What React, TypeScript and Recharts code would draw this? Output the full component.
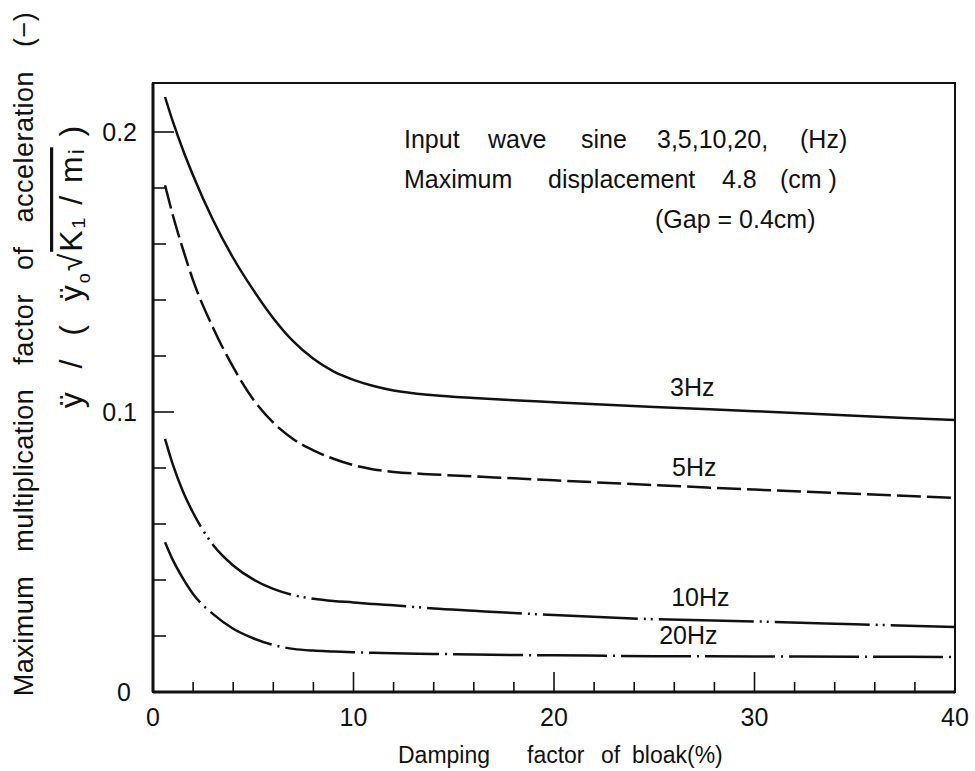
import React from "react";
import { LineChart, Line, XAxis, YAxis, ReferenceArea, ReferenceDot } from "recharts";

// damping factor of the block (%) at which each curve was read
const damping = [0.6, 1, 1.5, 2, 3, 4, 5, 6, 7, 8, 9, 10, 11, 12, 14, 16, 18, 20, 25, 30, 35, 40];

// max acceleration multiplication factor per input frequency
const hz3 = [0.2125, 0.2035, 0.1935, 0.1845, 0.1685, 0.155, 0.1436, 0.1335, 0.1252, 0.119, 0.1145, 0.1115, 0.1093, 0.1077, 0.106, 0.105, 0.1042, 0.1035, 0.1018, 0.1003, 0.0987, 0.0971];
const hz5 = [0.181, 0.17, 0.158, 0.147, 0.13, 0.116, 0.1045, 0.0962, 0.0903, 0.0863, 0.0833, 0.081, 0.0795, 0.0786, 0.0777, 0.077, 0.0763, 0.0756, 0.0739, 0.0723, 0.0708, 0.0693];
const hz10 = [0.0904, 0.081, 0.0715, 0.064, 0.0525, 0.0452, 0.0402, 0.0368, 0.0346, 0.0333, 0.0325, 0.032, 0.0314, 0.031, 0.0298, 0.029, 0.0282, 0.0275, 0.026, 0.0252, 0.0242, 0.0232];
const hz20 = [0.0535, 0.047, 0.0405, 0.035, 0.0278, 0.0226, 0.0192, 0.0168, 0.0154, 0.0148, 0.0145, 0.0142, 0.014, 0.0138, 0.0136, 0.0134, 0.0132, 0.0131, 0.0128, 0.0127, 0.0126, 0.0125];

const xTicks = [0, 2, 4, 6, 8, 10, 12, 14, 16, 18, 20, 22, 24, 26, 28, 30, 32, 34, 36, 38, 40];
const xTickLabels = [0, 10, 20, 30, 40];
const yTicks = [0, 0.02, 0.04, 0.06, 0.08, 0.1, 0.12, 0.14, 0.16, 0.18, 0.2];
const yTickLabels = ["0", "0.1", "0.2"];

const curveNames = ["3Hz", "5Hz", "10Hz", "20Hz"];
const curveLabelX = [26.9, 27.0, 27.3, 26.7];
const curveLabelY = [0.109, 0.0804, 0.0339, 0.0204];

// test-condition note and x title, word by word: [text, x]
const noteLine1: [string, number][] = [["Input", 404], ["wave", 488], ["sine", 581], ["3,5,10,20,", 657], ["(Hz)", 800]];
const noteLine2: [string, number][] = [["Maximum", 404], ["displacement", 548], ["4.8", 722], ["(cm )", 780]];
const noteLine3: [string, number][] = [["(Gap = 0.4cm)", 655]];
const xTitle: [string, number][] = [["Damping", 398], ["factor", 527], ["of", 601], ["bloak(%)", 632]];

const Y_MAX = 0.2175;
const FONT = '"Liberation Sans", Arial, sans-serif';
const INK = "#111";

const data = damping.map((d, i) => ({
  damping: d,
  hz3: hz3[i],
  hz5: hz5[i],
  hz10: hz10[i],
  hz20: hz20[i],
}));

function XTick({ x, y, payload }: any) {
  const v = payload.value;
  const major = v % 10 === 0;
  return (
    <g>
      {v > 0 && v < 40 && (
        <line x1={x} x2={x} y1={y} y2={y - (major ? 20 : 10)} stroke={INK} strokeWidth={1.6} />
      )}
      {xTickLabels.includes(v) && (
        <text x={x} y={y + 34} textAnchor="middle" fontSize={25} fontFamily={FONT} fill={INK}>
          {v}
        </text>
      )}
    </g>
  );
}

function YTick({ x, y, payload }: any) {
  const v = payload.value;
  const label = yTickLabels.find((s) => Math.abs(parseFloat(s) - v) < 1e-9);
  return (
    <g>
      {v > 0 && (
        <line x1={x} x2={x + (label ? 21 : 13)} y1={y} y2={y} stroke={INK} strokeWidth={1.6} />
      )}
      {label && (
        <text x={v === 0 ? x - 22 : x - 16} y={y + 9} textAnchor="end" fontSize={25} fontFamily={FONT} fill={INK}>
          {label}
        </text>
      )}
    </g>
  );
}

function Words({ words, y }: { words: [string, number][]; y: number }) {
  return (
    <>
      {words.map(([w, x]) => (
        <text key={w} x={x} y={y} xmlSpace="preserve">
          {w}
        </text>
      ))}
    </>
  );
}

function Titles() {
  return (
    <svg
      width={975}
      height={771}
      style={{ position: "absolute", left: 0, top: 0, pointerEvents: "none" }}
      fontFamily={FONT}
      fill={INK}
    >
      <text
        transform="translate(33,354) rotate(-90)"
        textAnchor="middle"
        fontSize={27}
        letterSpacing={0.5}
        xmlSpace="preserve"
      >
        {"Maximum   multiplication   factor   of   acceleration   (−)"}
      </text>
      <text
        transform="translate(82,266) rotate(-90)"
        textAnchor="middle"
        fontSize={32}
        letterSpacing={2}
        xmlSpace="preserve"
      >
        <tspan>{"ÿ  /  (  ÿ"}</tspan>
        <tspan fontSize={18} dy={8}>o</tspan>
        <tspan dy={-8}>√</tspan>
        <tspan style={{ textDecoration: "overline" }}>{"K₁ / mᵢ"}</tspan>
        <tspan>{" )"}</tspan>
      </text>
      <g fontSize={25}>
        <Words words={noteLine1} y={148} />
        <Words words={noteLine2} y={188} />
        <Words words={noteLine3} y={228} />
      </g>
      <g fontSize={23}>
        <Words words={xTitle} y={763} />
      </g>
    </svg>
  );
}

export default function App() {
  return (
    <div style={{ position: "absolute", left: 0, top: 0, width: 975, height: 771, background: "#fff" }}>
      <LineChart
        width={975}
        height={771}
        data={data}
        margin={{ top: 83, right: 20, bottom: 39, left: 93 }}
      >
        <XAxis
          dataKey="damping"
          type="number"
          domain={[0, 40]}
          ticks={xTicks}
          interval={0}
          allowDataOverflow
          height={40}
          tickSize={0}
          tickMargin={0}
          tickLine={false}
          axisLine={{ stroke: INK, strokeWidth: 3 }}
          tick={<XTick />}
        />
        <YAxis
          type="number"
          domain={[0, Y_MAX]}
          ticks={yTicks}
          interval={0}
          allowDataOverflow
          width={60}
          tickSize={0}
          tickMargin={0}
          tickLine={false}
          axisLine={{ stroke: INK, strokeWidth: 3 }}
          tick={<YTick />}
        />
        <ReferenceArea x1={0} x2={40} y1={0} y2={Y_MAX} fill="none" stroke={INK} strokeWidth={2} />
        <Line dataKey="hz3" type="monotone" stroke={INK} strokeWidth={2.5} dot={false} isAnimationActive={false} />
        <Line dataKey="hz5" type="monotone" stroke={INK} strokeWidth={2.5} strokeDasharray="24 6" dot={false} isAnimationActive={false} />
        <Line dataKey="hz10" type="monotone" stroke={INK} strokeWidth={2.5} strokeDasharray="95 6 2 5 2 6" dot={false} isAnimationActive={false} />
        <Line dataKey="hz20" type="monotone" stroke={INK} strokeWidth={2.5} strokeDasharray="70 6 2 6" dot={false} isAnimationActive={false} />
        {curveNames.map((name, i) => (
          <ReferenceDot
            key={name}
            x={curveLabelX[i]}
            y={curveLabelY[i]}
            r={0}
            fill="none"
            stroke="none"
            label={{ value: name, position: "center", fontSize: 25, fontFamily: FONT, fill: INK }}
          />
        ))}
      </LineChart>
      <Titles />
    </div>
  );
}
